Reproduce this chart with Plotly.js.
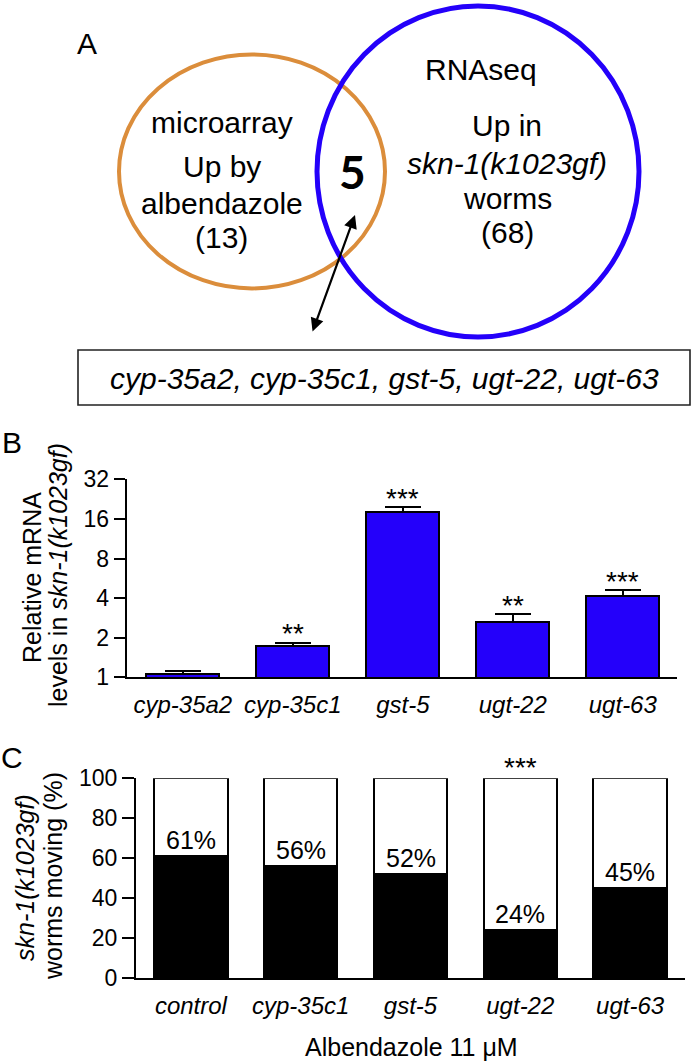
<!DOCTYPE html>
<html><head><meta charset="utf-8">
<script src="https://cdn.plot.ly/plotly-3.0.1.min.js"></script>
<style>html,body{margin:0;padding:0;background:#fff}</style>
</head><body><div id="chart" style="width:693px;height:1063px"></div>
<script>
// ---- Panel B data ----
const genesB = ['cyp-35a2', 'cyp-35c1', 'gst-5', 'ugt-22', 'ugt-63'];
const relMRNA = [1.06, 1.73, 18.0, 2.64, 4.16];
const relMRNAUpper = [1.12, 1.83, 19.6, 3.02, 4.57];
const starsB = ['', '**', '***', '**', '***'];
const log2Ticks = [1, 2, 4, 8, 16, 32];
// ---- Panel C data ----
const groupsC = ['control', 'cyp-35c1', 'gst-5', 'ugt-22', 'ugt-63'];
const movingPct = [61, 56, 52, 24, 45];
const starsC = ['', '', '', '***', ''];
const pctTicks = [0, 20, 40, 60, 80, 100];
// ---- Panel A text ----
const vennLeft = ['microarray', 'Up by', 'albendazole', '(13)'];
const vennRight = ['Up in', '<i>skn-1(k1023gf)</i>', 'worms', '(68)'];
const vennTitleRight = 'RNAseq';
const vennOverlap = '5';
const overlapGenes = 'cyp-35a2, cyp-35c1, gst-5, ugt-22, ugt-63';

const W = 693, H = 1063;
const px = x => x / W;
const py = y => 1 - y / H;
const FONT = 'Liberation Sans, Arial, Helvetica, sans-serif';
const BLUE = '#2400fa';
const ORANGE = '#db8d3b';

const notMoving = movingPct.map(v => 100 - v);

const traces = [
  {
    type: 'bar', x: genesB, y: relMRNA, xaxis: 'x', yaxis: 'y',
    width: 0.667,
    marker: {color: BLUE, line: {color: '#000', width: 2}},
    error_y: {type: 'data', symmetric: false,
      array: relMRNAUpper.map((u, i) => u - relMRNA[i]),
      arrayminus: relMRNA.map(() => 0),
      width: 18, thickness: 2, color: '#000'},
    hoverinfo: 'skip'
  },
  {
    type: 'bar', x: groupsC, y: movingPct, xaxis: 'x2', yaxis: 'y2',
    width: 0.67,
    marker: {color: '#000', line: {color: '#000', width: 2}},
    hoverinfo: 'skip'
  },
  {
    type: 'bar', x: groupsC, y: notMoving, xaxis: 'x2', yaxis: 'y2',
    width: 0.67,
    marker: {color: '#fff', line: {color: '#000', width: 2}},
    hoverinfo: 'skip'
  }
];

const annotations = [];
function txt(text, x, y, size, extra) {
  annotations.push(Object.assign({
    text: text, x: px(x), y: py(y), xref: 'paper', yref: 'paper',
    xanchor: 'center', yanchor: 'middle', showarrow: false,
    font: {family: FONT, size: size, color: '#000'}
  }, extra || {}));
}

// Panel letters
txt('A', 87, 43, 30);
txt('B', 12.5, 442, 30);
txt('C', 12, 757, 30);

// Venn texts
const leftY = [122, 167, 203, 237];
vennLeft.forEach((t, i) => txt(t, 222, leftY[i], 30));
txt(vennTitleRight, 481, 70, 30);
const rightY = [125, 163, 198, 233];
vennRight.forEach((t, i) => txt(t, 507, rightY[i], 30));
txt('<b>' + vennOverlap + '</b>', 352, 172, 46, {font: {family: 'Lato, Liberation Sans, sans-serif', size: 46, color: '#000'}});

// Double arrow
annotations.push({
  x: px(355), y: py(215), xref: 'paper', yref: 'paper',
  ax: 312 - 355, ay: 333 - 215, axref: 'pixel', ayref: 'pixel',
  text: '', showarrow: true, arrowside: 'end+start',
  arrowhead: 2, startarrowhead: 2, arrowsize: 1.2, startarrowsize: 1.2,
  arrowwidth: 2.2, arrowcolor: '#000'
});

// Gene box text
txt('<i>' + overlapGenes + '</i>', 384, 378, 30);

// Panel B y title
txt('Relative mRNA', 32, 578, 25, {textangle: -90});
txt('levels in <i>skn-1(k1023gf)</i>', 58, 575, 25, {textangle: -90});

// Panel C y title
txt('<i>skn-1(k1023gf)</i>', 25, 878, 25, {textangle: -90});
txt('worms moving (%)', 53, 876, 25, {textangle: -90});

// Panel C x title
txt('Albendazole 11 \u03bcM', 411, 1047, 25);

// Stars B
genesB.forEach((g, i) => {
  if (!starsB[i]) return;
  annotations.push({x: g, y: Math.log10(relMRNAUpper[i]), xref: 'x', yref: 'y',
    text: starsB[i], showarrow: false, xanchor: 'center', yanchor: 'middle', yshift: 9,
    font: {family: FONT, size: 28, color: '#000'}});
});
// Stars C
groupsC.forEach((g, i) => {
  if (!starsC[i]) return;
  annotations.push({x: g, y: 100, xref: 'x2', yref: 'y2',
    text: starsC[i], showarrow: false, xanchor: 'center', yanchor: 'middle', yshift: 11,
    font: {family: FONT, size: 28, color: '#000'}});
});
// Percent labels C
groupsC.forEach((g, i) => {
  annotations.push({x: g, y: movingPct[i], xref: 'x2', yref: 'y2',
    text: movingPct[i] + '%', showarrow: false, xanchor: 'center', yanchor: 'bottom', yshift: 0,
    font: {family: FONT, size: 25, color: '#000'}});
});

const shapes = [
  {type: 'circle', xref: 'paper', yref: 'paper',
   x0: px(252 - 133), x1: px(252 + 133), y0: py(171.4 + 117), y1: py(171.4 - 117),
   line: {color: ORANGE, width: 4}},
  {type: 'circle', xref: 'paper', yref: 'paper',
   x0: px(478 - 161), x1: px(478 + 161), y0: py(171.5 + 165.5), y1: py(171.5 - 165.5),
   line: {color: BLUE, width: 5}},
  {type: 'rect', xref: 'paper', yref: 'paper',
   x0: px(78), x1: px(690), y0: py(405), y1: py(350),
   line: {color: '#222', width: 1.6}}
];

const axisCommon = {
  showgrid: false, zeroline: false, showline: true, linecolor: '#000', linewidth: 2,
  fixedrange: true
};

const layout = {
  width: W, height: H, margin: {l: 0, r: 0, t: 0, b: 0},
  paper_bgcolor: '#fff', plot_bgcolor: 'rgba(0,0,0,0)',
  showlegend: false, barmode: 'stack',
  font: {family: FONT, color: '#000'},
  xaxis: Object.assign({}, axisCommon, {
    domain: [px(126.7), px(676.7)], anchor: 'y', type: 'category',
    range: [-0.51, 4.49], ticks: '', ticklabelstandoff: 5,
    tickfont: {family: FONT, size: 24, style: 'italic', color: '#000'}
  }),
  yaxis: Object.assign({}, axisCommon, {
    domain: [py(677.3), py(479.3)], anchor: 'x', type: 'log',
    range: [0, Math.log10(32)], tickvals: log2Ticks, ticktext: log2Ticks.map(String),
    ticks: 'outside', ticklen: 11, tickwidth: 2, tickcolor: '#000',
    tickfont: {family: FONT, size: 23, color: '#000'}
  }),
  xaxis2: Object.assign({}, axisCommon, {
    domain: [px(136), px(685)], anchor: 'y2', type: 'category',
    range: [-0.5, 4.5], ticks: '', ticklabelstandoff: 5,
    tickfont: {family: FONT, size: 24, style: 'italic', color: '#000'}
  }),
  yaxis2: Object.assign({}, axisCommon, {
    domain: [py(978.3), py(778.3)], anchor: 'x2',
    range: [0, 100], tickvals: pctTicks,
    ticks: 'outside', ticklen: 12, tickwidth: 2, tickcolor: '#000',
    tickfont: {family: FONT, size: 23, color: '#000'}
  }),
  shapes: shapes,
  annotations: annotations
};

Plotly.newPlot('chart', traces, layout, {displayModeBar: false, staticPlot: true});
</script></body></html>
